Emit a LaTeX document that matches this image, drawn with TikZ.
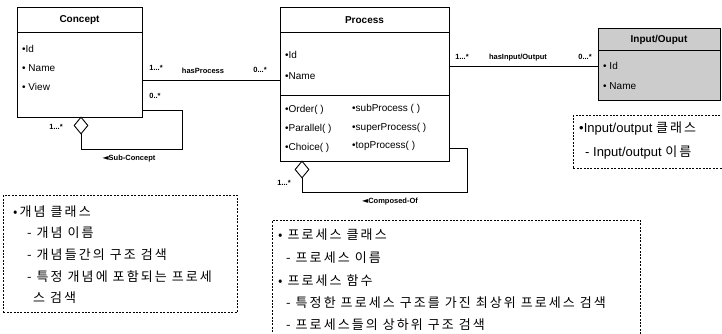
\documentclass[tikz,border=0pt]{standalone}
\usepackage{fontspec}
\setmainfont{Liberation Sans}
\newfontfamily\kr[LetterSpace=16]{Noto Sans CJK KR}
\newfontfamily\sym{DejaVu Sans}
\usetikzlibrary{shapes.geometric}

\begin{document}
\begin{tikzpicture}[x=1pt,y=-1pt,
  box/.style={draw, line width=1pt, inner sep=0, anchor=north west},
  sep/.style={line width=1pt},
  attr/.style={anchor=west, inner sep=0, font=\fontsize{10}{12}\selectfont},
  ttl/.style={inner sep=0, font=\bfseries\fontsize{10}{12}\selectfont},
  lbl/.style={inner sep=0, font=\bfseries\fontsize{7.5}{9}\selectfont},
  link/.style={line width=0.9pt},
  agg/.style={draw, line width=0.9pt, fill=white, diamond, minimum width=14pt, minimum height=17pt, inner sep=0},
  note/.style={draw, line width=0.8pt, dash pattern=on 2pt off 1.4pt, anchor=north west, inner sep=0},
  kline/.style={anchor=west, inner sep=0, font=\kr\fontsize{13}{15}\selectfont},
  mixline/.style={anchor=west, inner sep=0, font=\fontsize{13}{15}\selectfont},
]
\useasboundingbox (0,0) rectangle (722,334);

% ---- Concept class ----
\node[box, minimum width=125pt, minimum height=110pt] (concept) at (17,7) {};
\draw[sep] (17,33) -- (142,33);
\node[ttl] (conceptT) at (79.5,20) {Concept};
\node[attr] (cId)   at (22,49) {•Id};
\node[attr] (cName) at (22,68) {• Name};
\node[attr] (cView) at (22,87) {• View};

% ---- Process class ----
\node[box, minimum width=169pt, minimum height=154pt] (process) at (280,7) {};
\draw[sep] (280,33) -- (449,33);
\draw[sep] (280,96) -- (449,96);
\node[ttl] (processT) at (364.5,20) {Process};
\node[attr] (pId)   at (285,55) {•Id};
\node[attr] (pName) at (285,76) {•Name};
\node[attr] (pOrd)  at (285,110) {•Order( )};
\node[attr] (pPar)  at (285,129) {•Parallel( )};
\node[attr] (pCho)  at (285,148) {•Choice( )};
\node[attr] (pSub)  at (352,109) {•subProcess ( )};
\node[attr] (pSup)  at (352,128) {•superProcess( )};
\node[attr] (pTop)  at (352,146) {•topProcess( )};

% ---- Input/Output class ----
\node[box, fill=gray!40, minimum width=122pt, minimum height=72pt] (io) at (598,28) {};
\draw[sep] (598,51) -- (720,51);
\node[ttl] (ioT) at (659,40) {Input/Ouput};
\node[attr] (ioId)   at (603,66) {• Id};
\node[attr] (ioName) at (603,86) {• Name};

% ---- hasProcess association ----
\coordinate (hp) at (0,80);
\draw[link] (concept.east |- hp) -- (process.west |- hp);
\node[lbl] (hpA) at (156,68) {1...*};
\node[lbl] (hpN) at (203,71) {hasProcess};
\node[lbl] (hpB) at (260,70) {0...*};

% ---- Sub-Concept aggregation ----
\node[agg] (scd) at (81,125.5) {};
\coordinate (scTop) at (0,110);
\draw[link] (scd.south) |- (182,149) |- (concept.east |- scTop);
\node[lbl] (scA) at (56,127) {1...*};
\node[lbl] (scB) at (155,96) {0..*};
\node[lbl] (scN) at (129,159) {{\sym\fontsize{8}{9}\selectfont ◄}Sub-Concept};

% ---- hasInput/Output association ----
\coordinate (hio) at (0,66);
\draw[link] (process.east |- hio) -- (io.west |- hio);
\node[lbl] (hioA) at (462,57) {1...*};
\node[lbl] (hioN) at (518,58) {hasInput/Output};
\node[lbl] (hioB) at (585,57) {0...*};

% ---- Composed-Of aggregation ----
\node[agg] (pcd) at (302,169.5) {};
\coordinate (coTop) at (0,148);
\draw[link] (pcd.south) |- (467,192) |- (process.east |- coTop);
\node[lbl] (coA) at (284,183) {1...*};
\node[lbl] (coN) at (390,202) {{\sym\fontsize{8}{9}\selectfont ◄}Composed-Of};

% ---- notes ----
\node[note, minimum width=149pt, minimum height=53pt] (ioNote) at (573,115) {};
\node[mixline] at (579,128) {•Input/output {\kr\fontsize{13}{15}\selectfont 클래스}};
\node[mixline] at (585,152) {- Input/output {\kr\fontsize{13}{15}\selectfont 이름}};

\node[note, minimum width=234pt, minimum height=117pt] (cNote) at (3,195) {};
\node[kline] at (13,212) {•개념 클래스};
\node[kline] at (27,233) {- 개념 이름};
\node[kline] at (27,255) {- 개념들간의 구조 검색};
\node[kline] at (27,277) {- 특정 개념에 포함되는 프로세};
\node[kline] at (33,298) {스 검색};

\node[note, minimum width=368pt, minimum height=130pt] (pNote) at (272,220) {};
\node[kline] at (278,235) {• 프로세스 클래스};
\node[kline] at (286,258) {- 프로세스 이름};
\node[kline] at (278,281) {• 프로세스 함수};
\node[kline] at (286,303) {- 특정한 프로세스 구조를 가진 최상위 프로세스 검색};
\node[kline] at (286,325) {- 프로세스들의 상하위 구조 검색};
\end{tikzpicture}
\end{document}
